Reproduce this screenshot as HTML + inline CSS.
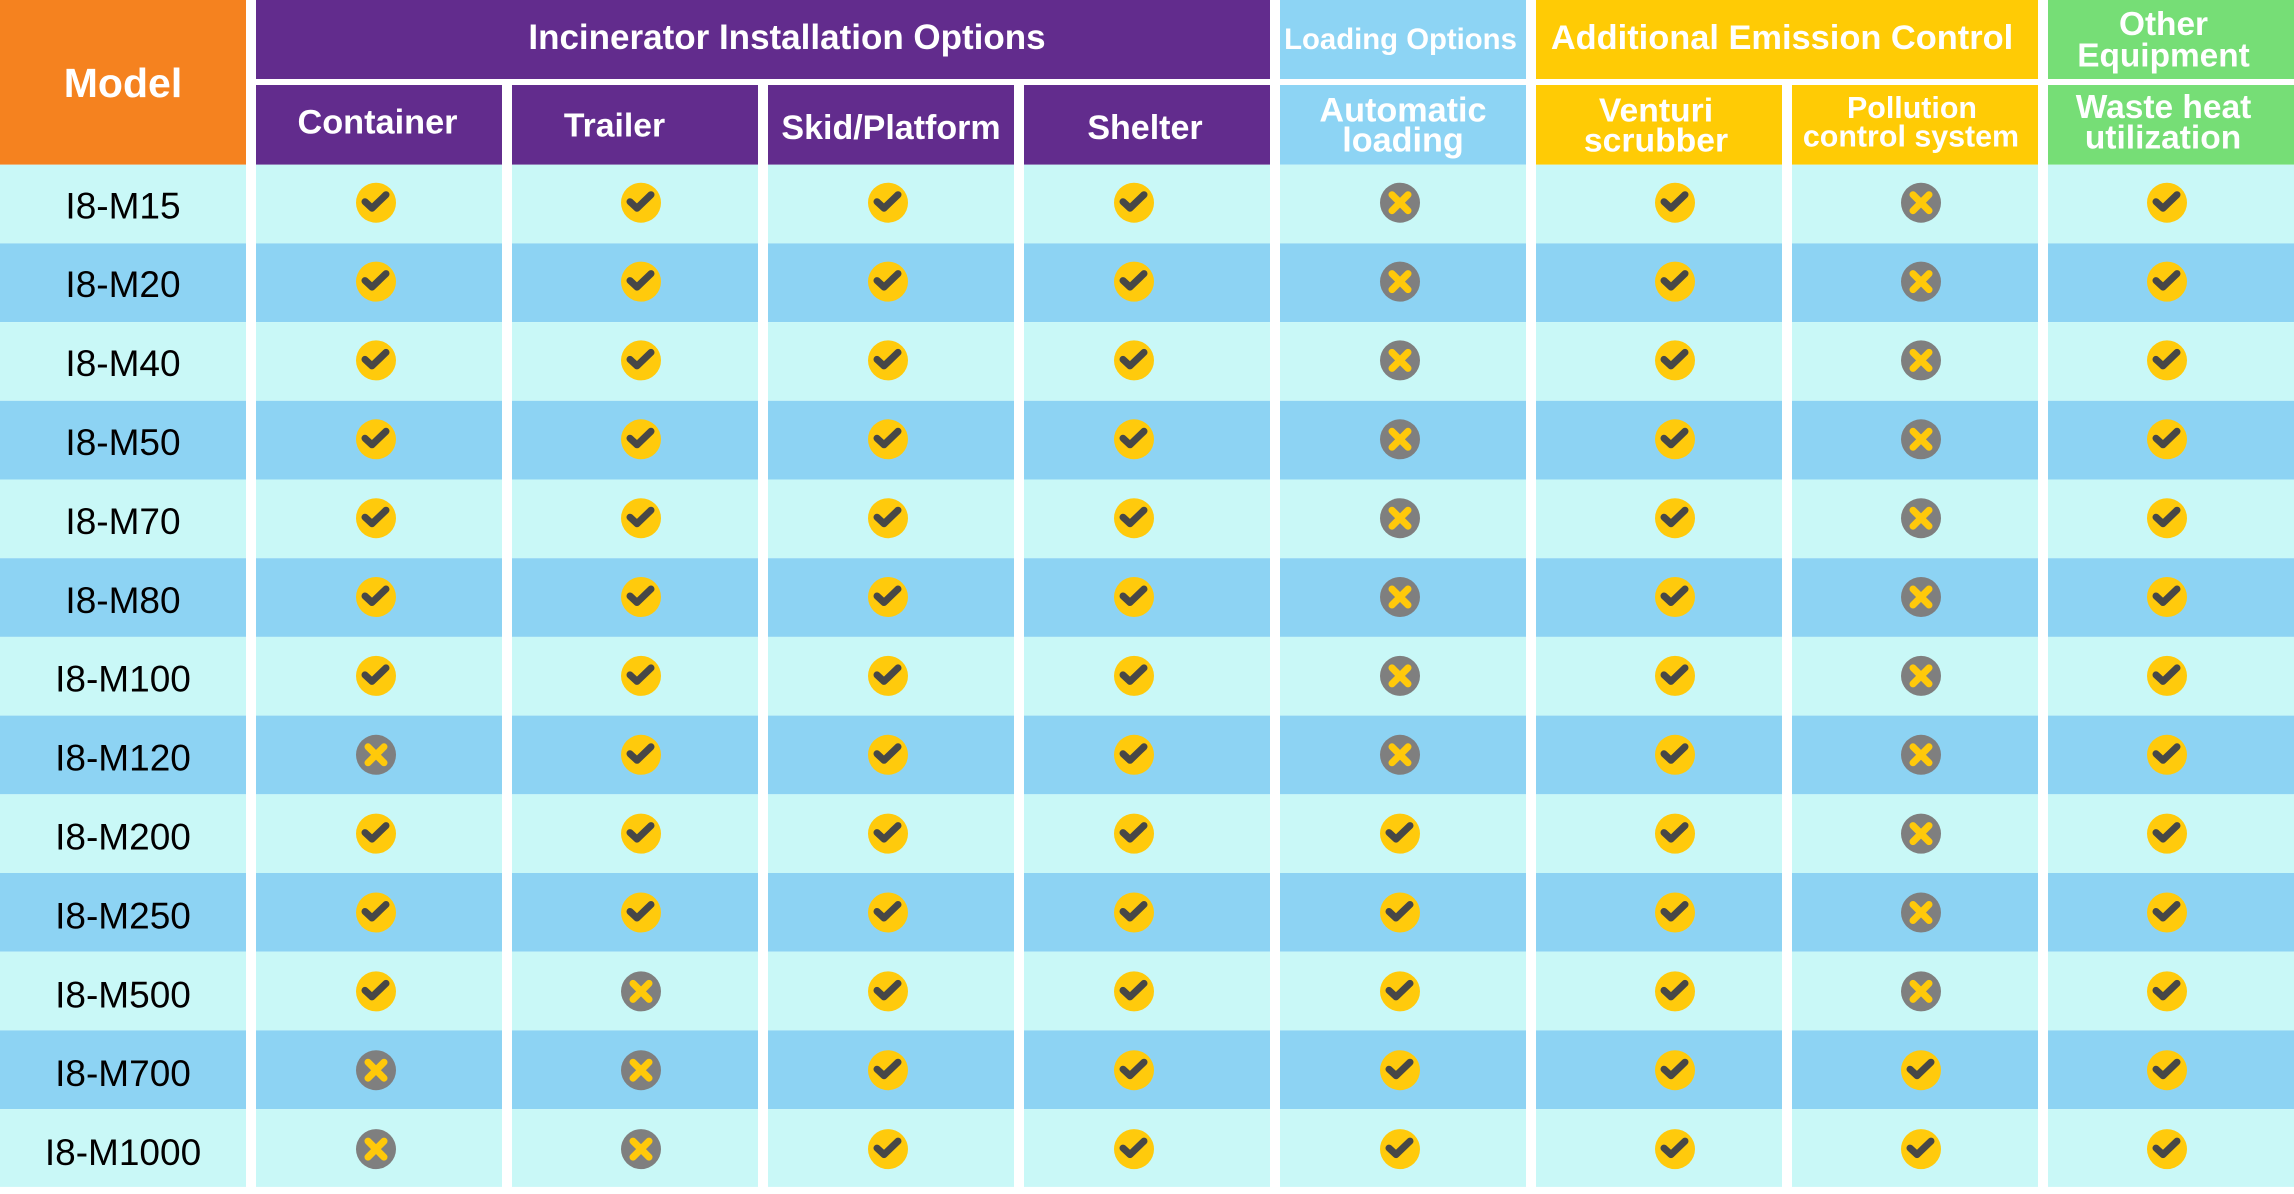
<!DOCTYPE html>
<html>
<head>
<meta charset="utf-8">
<style>
html,body{margin:0;padding:0;background:#fff;}
svg{display:block;}
text{font-family:"Liberation Sans",Arial,sans-serif;}
.h{fill:#fff;font-weight:bold;text-anchor:middle;}
.m{fill:#000;font-size:37px;text-anchor:middle;}
</style>
</head>
<body>
<svg width="2294" height="1194" viewBox="0 0 2294 1194" xmlns="http://www.w3.org/2000/svg">
<defs>
<g id="c"><circle cx="0" cy="0" r="20" fill="#FFCA0C"/><polyline points="-11,-1 -4,5.5 10,-8" fill="none" stroke="#474747" stroke-width="7" stroke-linecap="round" stroke-linejoin="round"/></g>
<g id="x"><circle cx="0" cy="0" r="20" fill="#7F7F7F"/><path d="M-8,-8 L8,8 M8,-8 L-8,8" fill="none" stroke="#FFC90A" stroke-width="7" stroke-linecap="round"/></g>
</defs>
<rect x="0" y="0" width="2294" height="1194" fill="#fff"/>

<!-- header -->
<rect x="0" y="0" width="246" height="164.7" fill="#F5821F"/>
<rect x="256" y="0" width="1014" height="79" fill="#622C8D"/>
<rect x="256" y="85" width="246" height="79.7" fill="#622C8D"/>
<rect x="512" y="85" width="246" height="79.7" fill="#622C8D"/>
<rect x="768" y="85" width="246" height="79.7" fill="#622C8D"/>
<rect x="1024" y="85" width="246" height="79.7" fill="#622C8D"/>
<rect x="1280" y="0" width="246" height="79" fill="#8DD4F4"/>
<rect x="1280" y="85" width="246" height="79.7" fill="#8DD4F4"/>
<rect x="1536" y="0" width="502" height="79" fill="#FFCB05"/>
<rect x="1536" y="85" width="246" height="79.7" fill="#FFCB05"/>
<rect x="1792" y="85" width="246" height="79.7" fill="#FFCB05"/>
<rect x="2048" y="0" width="246" height="79" fill="#76DE76"/>
<rect x="2048" y="85" width="246" height="79.7" fill="#76DE76"/>

<text class="h" x="123" y="97" font-size="41">Model</text>
<text class="h" x="787" y="49" font-size="35">Incinerator Installation Options</text>
<text class="h" x="377.5" y="133.3" font-size="34.3">Container</text>
<text class="h" x="614.5" y="136.7" font-size="33.7">Trailer</text>
<text class="h" x="891" y="139" font-size="34">Skid/Platform</text>
<text class="h" x="1145" y="139" font-size="34">Shelter</text>
<text class="h" x="1400.5" y="49" font-size="29.3">Loading Options</text>
<text class="h" x="1782" y="49" font-size="34.4">Additional Emission Control</text>
<text class="h" x="2163.5" y="35" font-size="33.4">Other</text>
<text class="h" x="2163.5" y="66.7" font-size="33.4">Equipment</text>
<text class="h" x="1403" y="121.7" font-size="34.2">Automatic</text>
<text class="h" x="1403" y="151.7" font-size="34.2">loading</text>
<text class="h" x="1656" y="121.7" font-size="33.7">Venturi</text>
<text class="h" x="1656" y="151.7" font-size="33.7">scrubber</text>
<text class="h" x="1912" y="118" font-size="30.4">Pollution</text>
<text class="h" x="1911" y="146.7" font-size="30.4">control system</text>
<text class="h" x="2163.5" y="118" font-size="33.5">Waste heat</text>
<text class="h" x="2163" y="148.3" font-size="33.5">utilization</text>

<!-- rows -->
<rect x="0" y="164.7" width="2294" height="78.7" fill="#C9F8F7"/>
<rect x="0" y="243.4" width="2294" height="78.7" fill="#8DD3F3"/>
<rect x="0" y="322.1" width="2294" height="78.7" fill="#C9F8F7"/>
<rect x="0" y="400.8" width="2294" height="78.7" fill="#8DD3F3"/>
<rect x="0" y="479.5" width="2294" height="78.7" fill="#C9F8F7"/>
<rect x="0" y="558.2" width="2294" height="78.7" fill="#8DD3F3"/>
<rect x="0" y="636.9" width="2294" height="78.7" fill="#C9F8F7"/>
<rect x="0" y="715.6" width="2294" height="78.7" fill="#8DD3F3"/>
<rect x="0" y="794.3" width="2294" height="78.7" fill="#C9F8F7"/>
<rect x="0" y="873.0" width="2294" height="78.7" fill="#8DD3F3"/>
<rect x="0" y="951.7" width="2294" height="78.7" fill="#C9F8F7"/>
<rect x="0" y="1030.4" width="2294" height="78.7" fill="#8DD3F3"/>
<rect x="0" y="1109.1" width="2294" height="77.8" fill="#C9F8F7"/>

<!-- column gaps -->
<rect x="246" y="164" width="10" height="1024" fill="#fff"/>
<rect x="502" y="164" width="10" height="1024" fill="#fff"/>
<rect x="758" y="164" width="10" height="1024" fill="#fff"/>
<rect x="1014" y="164" width="10" height="1024" fill="#fff"/>
<rect x="1270" y="164" width="10" height="1024" fill="#fff"/>
<rect x="1526" y="164" width="10" height="1024" fill="#fff"/>
<rect x="1782" y="164" width="10" height="1024" fill="#fff"/>
<rect x="2038" y="164" width="10" height="1024" fill="#fff"/>

<!-- model labels -->
<text class="m" x="123" y="218.3">I8-M15</text>
<text class="m" x="123" y="297.2">I8-M20</text>
<text class="m" x="123" y="376.1">I8-M40</text>
<text class="m" x="123" y="455.0">I8-M50</text>
<text class="m" x="123" y="533.9">I8-M70</text>
<text class="m" x="123" y="612.8">I8-M80</text>
<text class="m" x="123" y="691.7">I8-M100</text>
<text class="m" x="123" y="770.6">I8-M120</text>
<text class="m" x="123" y="849.5">I8-M200</text>
<text class="m" x="123" y="928.4">I8-M250</text>
<text class="m" x="123" y="1007.3">I8-M500</text>
<text class="m" x="123" y="1086.2">I8-M700</text>
<text class="m" x="123" y="1165.1">I8-M1000</text>

<!-- icons: columns x = 376,641,888,1134,1400,1675,1921,2167 -->
<!-- row 0 M15 -->
<use href="#c" x="376" y="202.7"/><use href="#c" x="641" y="202.7"/><use href="#c" x="888" y="202.7"/><use href="#c" x="1134" y="202.7"/><use href="#x" x="1400" y="202.7"/><use href="#c" x="1675" y="202.7"/><use href="#x" x="1921" y="202.7"/><use href="#c" x="2167" y="202.7"/>
<!-- row 1 M20 -->
<use href="#c" x="376" y="281.6"/><use href="#c" x="641" y="281.6"/><use href="#c" x="888" y="281.6"/><use href="#c" x="1134" y="281.6"/><use href="#x" x="1400" y="281.6"/><use href="#c" x="1675" y="281.6"/><use href="#x" x="1921" y="281.6"/><use href="#c" x="2167" y="281.6"/>
<!-- row 2 M40 -->
<use href="#c" x="376" y="360.4"/><use href="#c" x="641" y="360.4"/><use href="#c" x="888" y="360.4"/><use href="#c" x="1134" y="360.4"/><use href="#x" x="1400" y="360.4"/><use href="#c" x="1675" y="360.4"/><use href="#x" x="1921" y="360.4"/><use href="#c" x="2167" y="360.4"/>
<!-- row 3 M50 -->
<use href="#c" x="376" y="439.3"/><use href="#c" x="641" y="439.3"/><use href="#c" x="888" y="439.3"/><use href="#c" x="1134" y="439.3"/><use href="#x" x="1400" y="439.3"/><use href="#c" x="1675" y="439.3"/><use href="#x" x="1921" y="439.3"/><use href="#c" x="2167" y="439.3"/>
<!-- row 4 M70 -->
<use href="#c" x="376" y="518.2"/><use href="#c" x="641" y="518.2"/><use href="#c" x="888" y="518.2"/><use href="#c" x="1134" y="518.2"/><use href="#x" x="1400" y="518.2"/><use href="#c" x="1675" y="518.2"/><use href="#x" x="1921" y="518.2"/><use href="#c" x="2167" y="518.2"/>
<!-- row 5 M80 -->
<use href="#c" x="376" y="597.0"/><use href="#c" x="641" y="597.0"/><use href="#c" x="888" y="597.0"/><use href="#c" x="1134" y="597.0"/><use href="#x" x="1400" y="597.0"/><use href="#c" x="1675" y="597.0"/><use href="#x" x="1921" y="597.0"/><use href="#c" x="2167" y="597.0"/>
<!-- row 6 M100 -->
<use href="#c" x="376" y="675.9"/><use href="#c" x="641" y="675.9"/><use href="#c" x="888" y="675.9"/><use href="#c" x="1134" y="675.9"/><use href="#x" x="1400" y="675.9"/><use href="#c" x="1675" y="675.9"/><use href="#x" x="1921" y="675.9"/><use href="#c" x="2167" y="675.9"/>
<!-- row 7 M120 -->
<use href="#x" x="376" y="754.8"/><use href="#c" x="641" y="754.8"/><use href="#c" x="888" y="754.8"/><use href="#c" x="1134" y="754.8"/><use href="#x" x="1400" y="754.8"/><use href="#c" x="1675" y="754.8"/><use href="#x" x="1921" y="754.8"/><use href="#c" x="2167" y="754.8"/>
<!-- row 8 M200 -->
<use href="#c" x="376" y="833.6"/><use href="#c" x="641" y="833.6"/><use href="#c" x="888" y="833.6"/><use href="#c" x="1134" y="833.6"/><use href="#c" x="1400" y="833.6"/><use href="#c" x="1675" y="833.6"/><use href="#x" x="1921" y="833.6"/><use href="#c" x="2167" y="833.6"/>
<!-- row 9 M250 -->
<use href="#c" x="376" y="912.5"/><use href="#c" x="641" y="912.5"/><use href="#c" x="888" y="912.5"/><use href="#c" x="1134" y="912.5"/><use href="#c" x="1400" y="912.5"/><use href="#c" x="1675" y="912.5"/><use href="#x" x="1921" y="912.5"/><use href="#c" x="2167" y="912.5"/>
<!-- row 10 M500 -->
<use href="#c" x="376" y="991.4"/><use href="#x" x="641" y="991.4"/><use href="#c" x="888" y="991.4"/><use href="#c" x="1134" y="991.4"/><use href="#c" x="1400" y="991.4"/><use href="#c" x="1675" y="991.4"/><use href="#x" x="1921" y="991.4"/><use href="#c" x="2167" y="991.4"/>
<!-- row 11 M700 -->
<use href="#x" x="376" y="1070.2"/><use href="#x" x="641" y="1070.2"/><use href="#c" x="888" y="1070.2"/><use href="#c" x="1134" y="1070.2"/><use href="#c" x="1400" y="1070.2"/><use href="#c" x="1675" y="1070.2"/><use href="#c" x="1921" y="1070.2"/><use href="#c" x="2167" y="1070.2"/>
<!-- row 12 M1000 -->
<use href="#x" x="376" y="1149.1"/><use href="#x" x="641" y="1149.1"/><use href="#c" x="888" y="1149.1"/><use href="#c" x="1134" y="1149.1"/><use href="#c" x="1400" y="1149.1"/><use href="#c" x="1675" y="1149.1"/><use href="#c" x="1921" y="1149.1"/><use href="#c" x="2167" y="1149.1"/>
</svg>
</body>
</html>
